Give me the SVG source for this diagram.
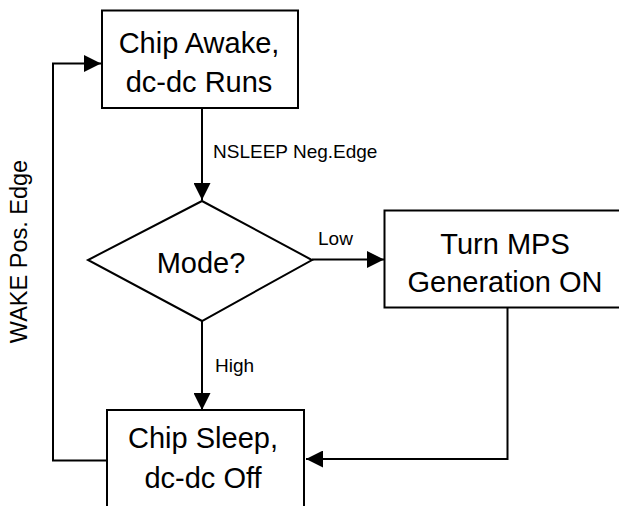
<svg xmlns="http://www.w3.org/2000/svg" width="619" height="506" viewBox="0 0 619 506">
<style>
.box{fill:#fff;stroke:#000;stroke-width:2}
.ln{fill:none;stroke:#000;stroke-width:2}
.t{font-family:"Liberation Sans",Arial,sans-serif;font-size:29px;fill:#000;text-anchor:middle}
.s{font-family:"Liberation Sans",Arial,sans-serif;font-size:19px;fill:#000}
</style>
<defs>
<marker id="ah" viewBox="0 0 17 17" refX="17" refY="8.5" markerWidth="17" markerHeight="17" markerUnits="userSpaceOnUse" orient="auto">
<path d="M0,0 L17,8.5 L0,17 Z" fill="#000"/>
</marker>
</defs>
<rect width="619" height="506" fill="#fff"/>
<g id="connectors">
<line class="ln" x1="202" y1="108" x2="202" y2="200" marker-end="url(#ah)"/>
<line class="ln" x1="312" y1="259.5" x2="384" y2="259.5" marker-end="url(#ah)"/>
<line class="ln" x1="202" y1="321" x2="202" y2="410" marker-end="url(#ah)"/>
<polyline class="ln" points="507.5,308 507.5,459 306,459" marker-end="url(#ah)"/>
<polyline class="ln" points="107,460.5 53,460.5 53,63.5 101,63.5" marker-end="url(#ah)"/>
<text class="s" x="213" y="158">NSLEEP Neg.Edge</text>
<text class="s" x="318" y="245">Low</text>
<text class="s" x="215" y="371.5">High</text>
<text class="s" style="font-size:23.5px;text-anchor:middle" transform="translate(27,251.5) rotate(-90)">WAKE Pos. Edge</text>
</g>
<g id="awake">
<rect class="box" x="102" y="10.5" width="196" height="97.5"/>
<text class="t" x="199" y="53">Chip Awake,</text>
<text class="t" x="199" y="91.5">dc-dc Runs</text>
</g>
<g id="mode">
<polygon class="box" points="202,201 312,260 202,321 88,260"/>
<text class="t" x="201" y="272.5">Mode?</text>
</g>
<g id="mps">
<rect class="box" x="384.5" y="210.5" width="243" height="97"/>
<text class="t" x="505" y="254">Turn MPS</text>
<text class="t" x="505" y="291.5">Generation ON</text>
</g>
<g id="sleep">
<rect class="box" x="107" y="410" width="197" height="110"/>
<text class="t" x="203" y="448">Chip Sleep,</text>
<text class="t" x="203" y="488">dc-dc Off</text>
</g>
</svg>
